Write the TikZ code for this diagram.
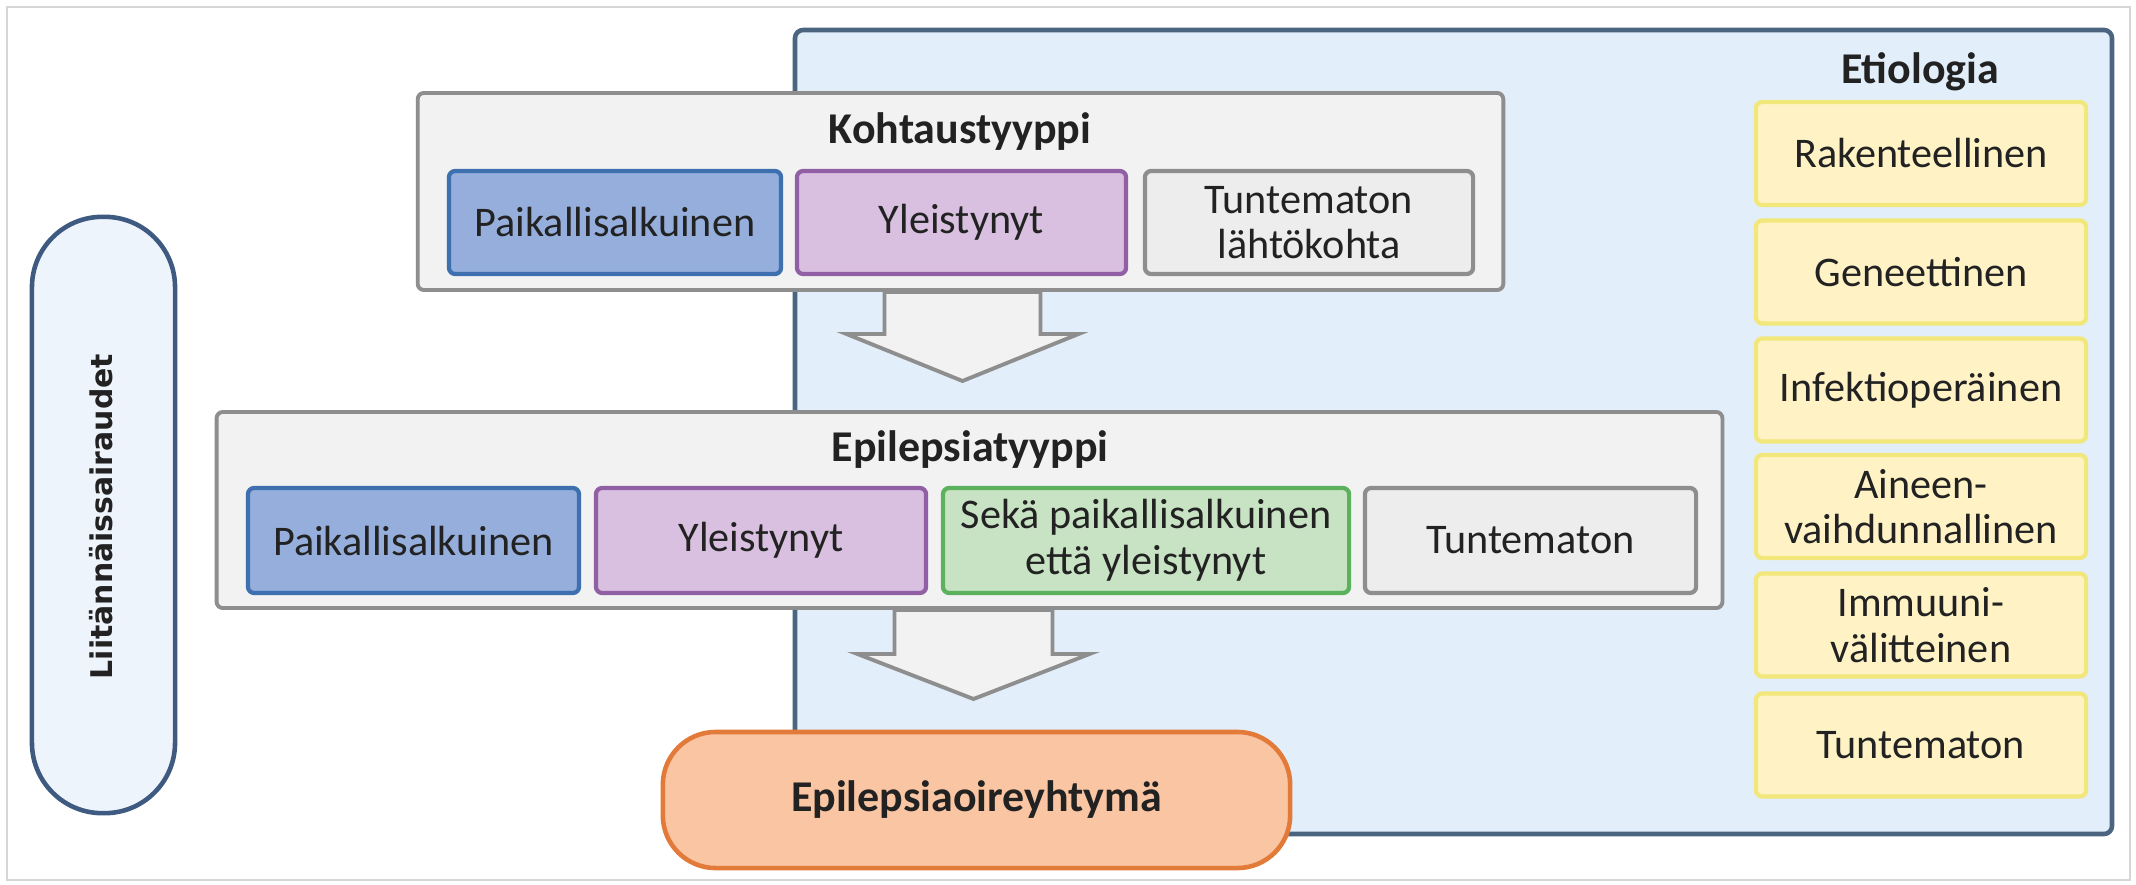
\documentclass[tikz,border=0pt]{standalone}
\usepackage{fontspec}
\setmainfont{Carlito}
\newfontfamily\liitfont{DejaVu Sans}
\usetikzlibrary{calc}
\definecolor{txt}{HTML}{222222}
\definecolor{frameC}{HTML}{D6D6D6}
\definecolor{bgFill}{HTML}{E2EEF9}
\definecolor{bgDraw}{HTML}{4B6580}
\definecolor{greyFill}{HTML}{F2F2F2}
\definecolor{greyDraw}{HTML}{8E8E8E}
\definecolor{cellGrey}{HTML}{EDEDED}
\definecolor{blueFill}{HTML}{95AEDC}
\definecolor{blueDraw}{HTML}{3E70B0}
\definecolor{purpFill}{HTML}{D9C0E1}
\definecolor{purpDraw}{HTML}{915FA3}
\definecolor{greenFill}{HTML}{C8E3C4}
\definecolor{greenDraw}{HTML}{5CB25C}
\definecolor{yelFill}{HTML}{FFF3C6}
\definecolor{yelDraw}{HTML}{F2E77A}
\definecolor{oraFill}{HTML}{F9C5A3}
\definecolor{oraDraw}{HTML}{E27B3A}
\definecolor{liitFill}{HTML}{EEF4FC}
\definecolor{liitDraw}{HTML}{3E5A80}
\tikzset{
  cell/.style={draw, line width=1.2pt, rounded corners=1.8pt, inner sep=2pt, align=center,
    text=txt, font=\fontsize{12}{13}\selectfont, minimum height=1.03cm},
  panel/.style={draw=greyDraw, fill=greyFill, line width=1.1pt, rounded corners=1.8pt},
  ttl/.style={text=txt, font=\fontsize{12.5}{14}\selectfont\bfseries, inner sep=0pt},
  etio/.style={cell, draw=yelDraw, fill=yelFill, minimum width=3.30cm},
  blockarrow/.style={draw=greyDraw, fill=greyFill, line width=1.1pt, line join=miter},
}
\begin{document}
\begin{tikzpicture}[x=0.01cm, y=-0.01cm]
\useasboundingbox (0,0) rectangle (2136,885);
\fill[white] (0,0) rectangle (2136,885);
\draw[frameC, line width=0.8pt] (7,7) rectangle (2130,880);
% blue etiologia background
\draw[draw=bgDraw, fill=bgFill, line width=1.3pt, rounded corners=2.3pt] (795,30) rectangle (2112,834);
\node[ttl] (etiot) at (1920,72) {Etiologia};
\node[etio] (e1) at (1921,153.5) {Rakenteellinen};
\node[etio] (e2) at (1921,272) {Geneettinen};
\node[etio] (e3) at (1921,390) {Infektioperäinen};
\node[etio] (e4) at (1921,506.5) {Aineen-\\vaihdunnallinen};
\node[etio] (e5) at (1921,625) {Immuuni-\\välitteinen};
\node[etio] (e6) at (1921,745) {Tuntematon};
% Kohtaustyyppi panel
\node[panel, minimum width=10.85cm, minimum height=1.97cm] (kbox) at (960.5,191.5) {};
\node[ttl] (kt) at (960,132) {Kohtaustyyppi};
\node[cell, draw=blueDraw, fill=blueFill, minimum width=3.32cm] (k1) at (615,222.5) {Paikallisalkuinen};
\node[cell, draw=purpDraw, fill=purpFill, minimum width=3.29cm] (k2) at (961.5,222.5) {Yleistynyt};
\node[cell, draw=greyDraw, fill=cellGrey, minimum width=3.28cm] (k3) at (1309,222.5) {Tuntematon\\lähtökohta};
% Epilepsiatyyppi panel
\node[panel, minimum width=15.05cm, minimum height=1.96cm] (ebox) at (969.5,510) {};
\node[ttl] (et) at (970,450) {Epilepsiatyyppi};
\node[cell, draw=blueDraw, fill=blueFill, minimum width=3.31cm, minimum height=1.05cm] (p1) at (413.5,540.5) {Paikallisalkuinen};
\node[cell, draw=purpDraw, fill=purpFill, minimum width=3.30cm, minimum height=1.05cm] (p2) at (761,540.5) {Yleistynyt};
\node[cell, draw=greenDraw, fill=greenFill, minimum width=4.06cm, minimum height=1.05cm] (p3) at (1146,540.5) {Sekä paikallisalkuinen\\että yleistynyt};
\node[cell, draw=greyDraw, fill=cellGrey, minimum width=3.31cm, minimum height=1.05cm] (p4) at (1530.5,540.5) {Tuntematon};
% arrows
\draw[blockarrow] ($(kbox.south)+(-76,0)$) -- ++(0,42) -- ++(-38,0) -- ++(116,47) -- ++(116,-47) -- ++(-38,0) -- ++(0,-42) -- cycle;
\draw[blockarrow] ($(ebox.south)+(-75,0)$) -- ++(0,44) -- ++(-37,0) -- ++(116,45) -- ++(116,-45) -- ++(-37,0) -- ++(0,-44) -- cycle;
% syndrome
\node[draw=oraDraw, fill=oraFill, line width=1.3pt, rounded corners=15pt, minimum width=6.27cm, minimum height=1.36cm, ttl] (oire) at (976.5,800) {Epilepsiaoireyhtymä};
% comorbidities
\node[draw=liitDraw, fill=liitFill, line width=1.3pt, rounded corners=20pt, minimum width=1.43cm, minimum height=5.96cm] (liit) at (103.5,515) {};
\node[rotate=90, text=txt, font=\liitfont\fontsize{8.5}{10}\selectfont\bfseries, inner sep=0pt] (liitt) at (101,516.5) {Liitännäissairaudet};
\end{tikzpicture}
\end{document}
